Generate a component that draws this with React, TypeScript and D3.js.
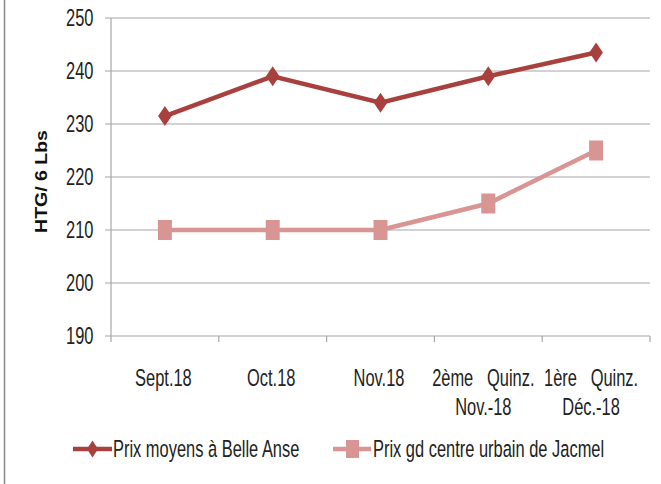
import React from "react";
import * as d3 from "d3";

const categories = ["Sept.18", "Oct.18", "Nov.18", "2ème Quinz. Nov.-18", "1ère Quinz. Déc.-18"];
const categoryLines: string[][] = [["Sept.18"], ["Oct.18"], ["Nov.18"], ["2ème   Quinz.", "Nov.-18"], ["1ère   Quinz.", "Déc.-18"]];
const belleAnse = [231.5, 239, 234, 239, 243.5];
const jacmel = [210, 210, 210, 215, 225];
const yTicks = [190, 200, 210, 220, 230, 240, 250];
const seriesNames = ["Prix moyens à Belle Anse", "Prix gd centre urbain de Jacmel"];

const C1 = "#A8413E";
const C2 = "#D99594";
const FONT = "'Liberation Sans', Arial, sans-serif";
const SX = 0.7;
const FS = 23.5;

function T({ x, y, anchor = "start", children }: { x: number; y: number; anchor?: string; children: React.ReactNode }) {
  return (
    <text transform={`translate(${x},${y}) scale(${SX},1)`} textAnchor={anchor} fontFamily={FONT} fontSize={FS} fill="#222" style={{ whiteSpace: "pre" }}>{children}</text>
  );
}

export default function App() {
  const W = 661, H = 484;
  const left = 111, right = 650, top = 18, bottom = 336;
  const x = d3.scaleBand<string>().domain(categories).range([left, right]);
  const y = d3.scaleLinear().domain([190, 250]).range([bottom, top]);
  const cx = (i: number) => (x(categories[i]) as number) + x.bandwidth() / 2;
  const line = d3.line<number>().x((_, i) => cx(i)).y((d) => y(d));
  const diamond = (px: number, py: number, hw: number, hh: number) =>
    `M${px},${py - hh}L${px + hw},${py}L${px},${py + hh}L${px - hw},${py}Z`;
  const bounds = [...categories.map((c) => x(c) as number), right];

  return (
    <svg width={W} height={H} style={{ position: "absolute", left: 0, top: 0 }}>
      <rect x={0} y={0} width={W} height={H} fill="#fff" />
      <line x1={4.5} y1={0} x2={4.5} y2={H} stroke="#888" strokeWidth={1.5} />
      {yTicks.map((t) => (
        <g key={t}>
          <line x1={left - 6} x2={right} y1={y(t)} y2={y(t)} stroke="#a6a6a6" strokeWidth={1.2} />
          <T x={93.5} y={y(t) + 8.3} anchor="end">{t}</T>
        </g>
      ))}
      <line x1={left} x2={left} y1={top} y2={bottom} stroke="#a6a6a6" strokeWidth={1.2} />
      {bounds.map((b, i) => (
        <line key={i} x1={b} x2={b} y1={bottom} y2={bottom + 6} stroke="#a6a6a6" strokeWidth={1.2} />
      ))}
      {categoryLines.map((lines, i) =>
        lines.map((l, j) => (
          <T key={i + "-" + j} x={cx(i) - (lines.length > 1 ? 5 : 1.5)} y={386 + j * 29} anchor="middle">{l}</T>
        ))
      )}
      <text transform="translate(47,181.5) rotate(-90) scale(1.16,1)" textAnchor="middle" fontFamily={FONT} fontWeight="bold" fontSize={16.8} fill="#111">HTG/ 6 Lbs</text>
      <path d={line(jacmel) || ""} fill="none" stroke={C2} strokeWidth={4.5} />
      {jacmel.map((v, i) => (
        <rect key={i} x={cx(i) - 7} y={y(v) - 10} width={14} height={20} fill={C2} />
      ))}
      <path d={line(belleAnse) || ""} fill="none" stroke={C1} strokeWidth={4.5} />
      {belleAnse.map((v, i) => (
        <path key={i} d={diamond(cx(i), y(v), 6.8, 10)} fill={C1} />
      ))}
      <g>
        <line x1={73} x2={112} y1={449} y2={449} stroke={C1} strokeWidth={4.5} />
        <path d={diamond(92.5, 449, 5.5, 8.5)} fill={C1} />
        <T x={113} y={457}>{seriesNames[0]}</T>
        <line x1={333} x2={371} y1={449} y2={449} stroke={C2} strokeWidth={4.5} />
        <rect x={346} y={440} width={13} height={18} fill={C2} />
        <T x={373} y={457}>{seriesNames[1]}</T>
      </g>
    </svg>
  );
}
